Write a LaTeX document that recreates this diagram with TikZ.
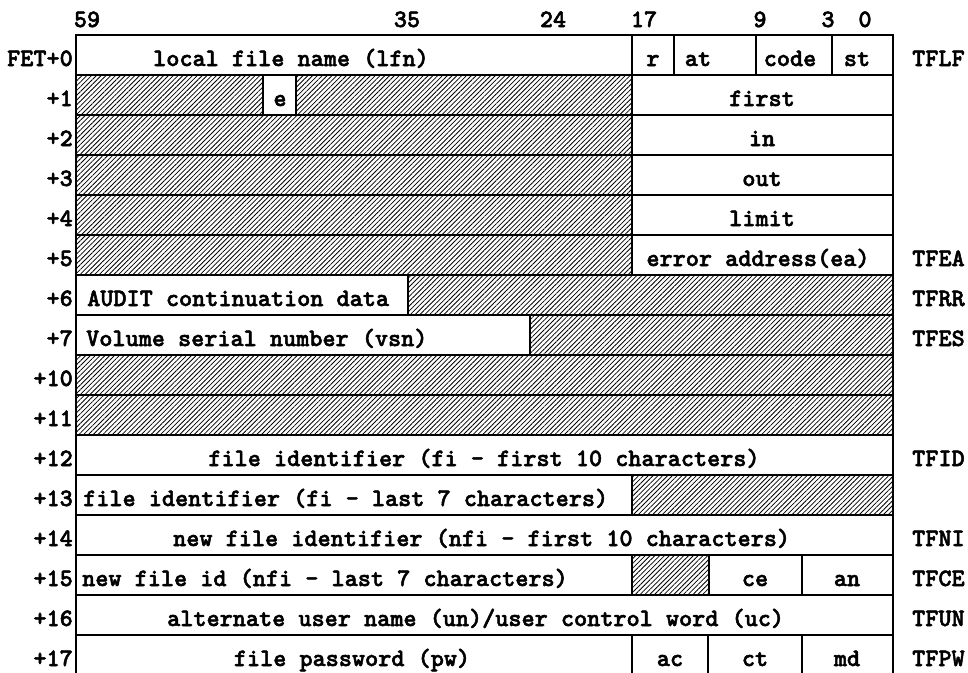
\documentclass[tikz,border=0pt]{standalone}
\usepackage{fontspec}
\newfontfamily\tyfont{lmmonolt10-bold.otf}[FakeBold=2]
\usetikzlibrary{patterns.meta}
% one word box: left x, right x, top y, style
\newcommand\wcell[4]{\draw[#4] (#1,#3) rectangle (#2,{#3+40});}
\begin{document}
\begin{tikzpicture}[x=1pt,y=-1pt,
  grid/.style={line width=1.6pt, line join=miter},
  hatch/.style={grid, pattern={Lines[angle=45,distance=3.4pt,line width=0.8pt]}},
  txt/.style={font=\tyfont\fontsize{25}{27}\selectfont, inner sep=0pt, anchor=base},
  ltxt/.style={txt, anchor=base west},
  rtxt/.style={txt, anchor=base east},
]
\useasboundingbox (0,0) rectangle (968,672);
\clip (0,0) rectangle (968,672);

% bit positions
\node[txt] (b59) at (87,27) {59};
\node[txt] (b35) at (407,27) {35};
\node[txt] (b24) at (553,27) {24};
\node[txt] (b17) at (644,27) {17};
\node[txt] (b9)  at (760,27) {9};
\node[txt] (b3)  at (828,27) {3};
\node[txt] (b0)  at (865,27) {0};

% word offsets
\node[rtxt] (o0)  at (73,66)  {FET+0};
\node[rtxt] (o1)  at (73,106) {+1};
\node[rtxt] (o2)  at (73,146) {+2};
\node[rtxt] (o3)  at (73,186) {+3};
\node[rtxt] (o4)  at (73,226) {+4};
\node[rtxt] (o5)  at (73,266) {+5};
\node[rtxt] (o6)  at (73,306) {+6};
\node[rtxt] (o7)  at (73,346) {+7};
\node[rtxt] (o10) at (73,386) {+10};
\node[rtxt] (o11) at (73,426) {+11};
\node[rtxt] (o12) at (73,466) {+12};
\node[rtxt] (o13) at (73,506) {+13};
\node[rtxt] (o14) at (73,546) {+14};
\node[rtxt] (o15) at (73,586) {+15};
\node[rtxt] (o16) at (73,626) {+16};
\node[rtxt] (o17) at (73,666) {+17};

% word 0
\wcell{76}{632}{35}{grid}
\wcell{632}{674}{35}{grid}
\wcell{674}{756}{35}{grid}
\wcell{756}{832}{35}{grid}
\wcell{832}{893}{35}{grid}
\node[txt] (lfn) at (291,66) {local file name (lfn)};
\node[txt] (r)  at (653,66) {r};
\node[txt] (at) at (698,66) {at};
\node[txt] (code) at (790,66) {code};
\node[txt] (st) at (857,66) {st};

% word 1
\wcell{76}{263}{75}{hatch}
\wcell{263}{296}{75}{grid}
\wcell{296}{632}{75}{hatch}
\wcell{632}{893}{75}{grid}
\node[txt] (e) at (280,106) {e};
\node[txt] (first) at (762,106) {first};

% words 2 to 5
\wcell{76}{632}{115}{hatch}
\wcell{632}{893}{115}{grid}
\node[txt] (in) at (762,146) {in};
\wcell{76}{632}{155}{hatch}
\wcell{632}{893}{155}{grid}
\node[txt] (out) at (762,186) {out};
\wcell{76}{632}{195}{hatch}
\wcell{632}{893}{195}{grid}
\node[txt] (limit) at (762,226) {limit};
\wcell{76}{632}{235}{hatch}
\wcell{632}{893}{235}{grid}
\node[txt] (ea) at (758,266) {error address(ea)};

% word 6
\wcell{76}{408}{275}{grid}
\wcell{408}{893}{275}{hatch}
\node[ltxt] (audit) at (87,306) {AUDIT continuation data};

% word 7
\wcell{76}{530}{315}{grid}
\wcell{530}{893}{315}{hatch}
\node[ltxt] (vsn) at (86,346) {Volume serial number (vsn)};

% words 10 and 11
\wcell{76}{893}{355}{hatch}
\wcell{76}{893}{395}{hatch}

% word 12
\wcell{76}{893}{435}{grid}
\node[txt] (fi1) at (484,466) {file identifier (fi – first 10 characters)};

% word 13
\wcell{76}{632}{475}{grid}
\wcell{632}{893}{475}{hatch}
\node[ltxt] (fi2) at (83,506) {file identifier (fi – last 7 characters)};

% word 14
\wcell{76}{893}{515}{grid}
\node[ltxt] (nfi1) at (173,546) {new file identifier (nfi – first 10 characters)};

% word 15
\wcell{76}{632}{555}{grid}
\wcell{632}{709}{555}{hatch}
\wcell{709}{802}{555}{grid}
\wcell{802}{893}{555}{grid}
\node[ltxt] (nfi2) at (82,586) {new file id (nfi – last 7 characters)};
\node[txt] (ce) at (755,586) {ce};
\node[txt] (an) at (847,586) {an};

% word 16
\wcell{76}{893}{595}{grid}
\node[ltxt] (un) at (167,626) {alternate user name (un)/user control word (uc)};

% word 17
\wcell{76}{632}{635}{grid}
\wcell{632}{708}{635}{grid}
\wcell{708}{802}{635}{grid}
\wcell{802}{893}{635}{grid}
\node[txt] (pw) at (352,666) {file password (pw)};
\node[txt] (ac) at (670,666) {ac};
\node[txt] (ct) at (755,666) {ct};
\node[txt] (md) at (847,666) {md};

% field tags
\node[ltxt] (tflf) at (912,66)  {TFLF};
\node[ltxt] (tfea) at (912,266) {TFEA};
\node[ltxt] (tfrr) at (912,306) {TFRR};
\node[ltxt] (tfes) at (912,346) {TFES};
\node[ltxt] (tfid) at (912,466) {TFID};
\node[ltxt] (tfni) at (912,546) {TFNI};
\node[ltxt] (tfce) at (912,586) {TFCE};
\node[ltxt] (tfun) at (912,626) {TFUN};
\node[ltxt] (tfpw) at (912,666) {TFPW};
\end{tikzpicture}
\end{document}
